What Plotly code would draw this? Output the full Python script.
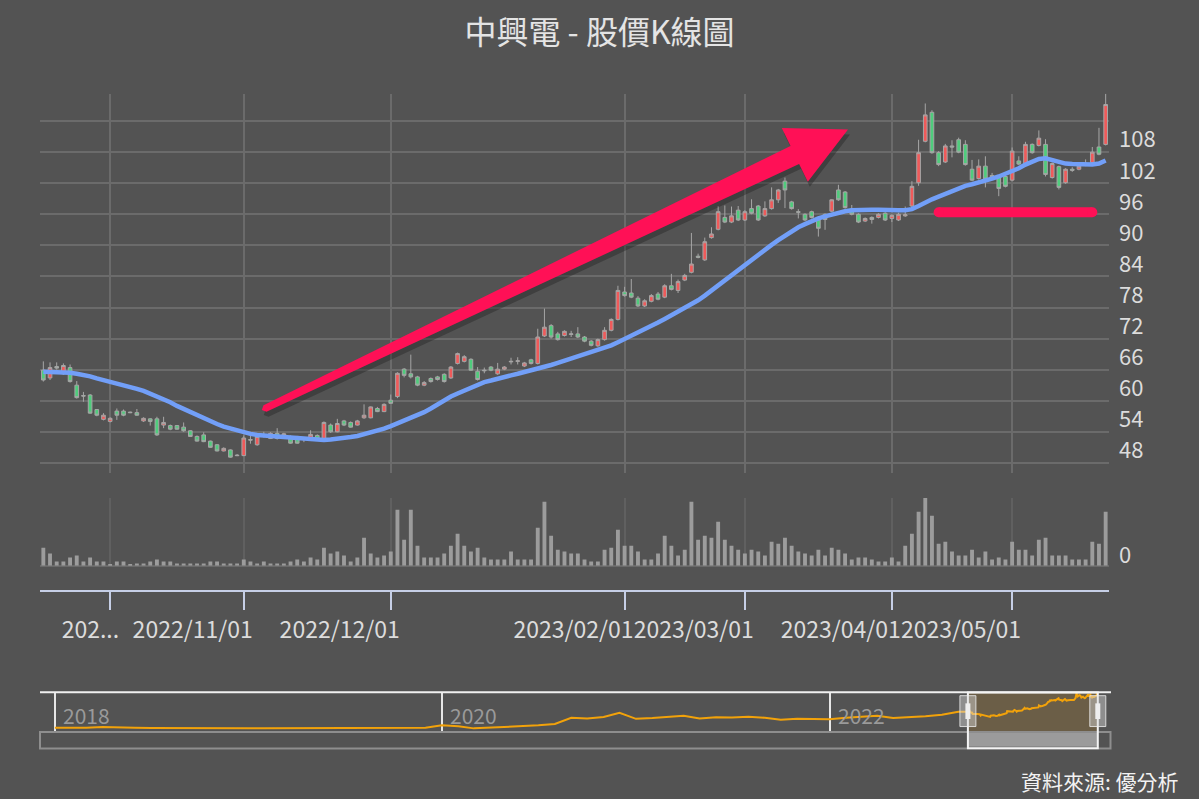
import pandas as pd
import plotly.graph_objects as go

W, H = 1199, 799

# ---------------- data ----------------
holidays = ["2022-10-10", "2023-01-02", "2023-01-18", "2023-01-19", "2023-01-20",
            "2023-01-23", "2023-01-24", "2023-01-25", "2023-01-26", "2023-01-27",
            "2023-02-27", "2023-02-28", "2023-04-03", "2023-04-04", "2023-04-05",
            "2023-05-01"]
dates = [d.strftime("%Y-%m-%d") for d in pd.bdate_range("2022-09-19", "2023-05-22")
         if d.strftime("%Y-%m-%d") not in holidays]

opens = [65.9, 64.4, 66.6, 65.2, 66.4, 63.0, 61.0, 61.1, 58.3, 56.4,
         56.0, 58.0, 58.0, 57.8, 57.7, 56.1, 56.5, 56.5, 55.3, 55.2,
         55.2, 54.9, 54.2, 53.1, 53.4, 52.2, 51.5, 50.3, 50.5, 49.5,
         49.4, 52.5, 51.5, 53.3, 52.7, 53.7, 53.3, 53.1, 53.1, 52.6,
         52.9, 53.3, 52.7, 55.3, 54.0, 56.1, 55.8, 55.3, 56.7, 56.7,
         58.5, 57.9, 60.1, 60.8, 66.1, 65.2, 64.6, 63.0, 64.3, 64.6,
         65.1, 64.4, 67.2, 67.6, 68.0, 65.7, 65.9, 66.5, 65.2, 66.1,
         67.5, 67.6, 66.7, 67.9, 67.2, 72.5, 74.5, 72.9, 72.6, 72.8,
         72.9, 72.3, 71.5, 70.6, 71.8, 73.6, 75.7, 81.0, 80.8, 79.8,
         78.3, 79.2, 80.6, 80.0, 82.2, 81.3, 83.3, 84.8, 87.9, 87.2,
         91.5, 93.1, 95.4, 94.5, 96.8, 94.9, 97.1, 97.6, 95.7, 97.1,
         98.8, 102.4, 98.4, 96.5, 96.0, 96.5, 94.9, 96.0, 96.6, 100.7,
         100.3, 97.0, 96.0, 94.7, 95.4, 95.4, 96.2, 95.2, 94.9, 95.7,
         97.6, 102.1, 110.1, 115.7, 107.9, 106.1, 109.2, 110.4, 109.5, 104.7,
         102.9, 105.3, 103.5, 103.3, 103.3, 102.6, 106.3, 105.8, 109.5, 109.3,
         109.5, 103.1, 105.2, 102.1, 104.7, 104.7, 105.5, 106.0, 109.0, 109.5]
highs = [67.6, 67.4, 67.4, 67.2, 67.0, 63.8, 61.7, 61.3, 58.4, 57.6,
         56.8, 58.5, 58.3, 57.9, 58.4, 56.8, 56.6, 56.9, 56.9, 55.4,
         55.3, 55.8, 54.3, 53.3, 53.9, 52.3, 51.6, 51.0, 50.6, 49.7,
         53.3, 53.3, 53.5, 54.0, 53.9, 54.7, 53.8, 53.3, 53.2, 53.0,
         54.3, 53.5, 56.0, 55.6, 56.5, 56.3, 56.0, 56.3, 59.3, 58.9,
         58.8, 59.5, 61.2, 65.5, 66.3, 68.9, 64.8, 63.8, 64.5, 64.8,
         65.3, 66.7, 69.3, 68.8, 68.2, 66.5, 66.4, 66.7, 67.3, 66.7,
         68.3, 68.4, 67.5, 68.1, 73.9, 77.8, 74.8, 73.3, 73.6, 73.5,
         74.2, 72.5, 71.7, 72.0, 74.2, 75.9, 82.2, 82.0, 83.5, 80.2,
         79.6, 80.6, 81.0, 82.5, 84.5, 83.4, 84.5, 92.4, 88.4, 91.5,
         93.5, 97.6, 97.7, 97.5, 97.6, 96.8, 98.9, 97.8, 98.5, 101.2,
         100.9, 103.1, 98.6, 97.0, 96.2, 96.7, 95.1, 96.2, 98.9, 101.7,
         100.5, 97.8, 96.2, 95.4, 95.6, 96.2, 96.4, 96.0, 96.3, 97.5,
         102.4, 110.4, 117.4, 116.1, 108.2, 109.6, 110.3, 110.8, 110.3, 106.5,
         106.6, 107.2, 104.0, 103.5, 103.5, 108.9, 107.2, 110.0, 109.7, 112.2,
         110.5, 106.0, 105.4, 104.9, 105.1, 105.5, 106.6, 109.0, 112.7, 119.3]
lows = [63.7, 64.0, 66.0, 65.0, 63.5, 60.4, 59.8, 57.5, 57.0, 56.2,
        55.8, 56.3, 57.0, 57.6, 57.1, 55.9, 55.2, 53.2, 54.7, 54.3,
        54.4, 54.0, 53.0, 52.1, 52.0, 50.9, 50.2, 50.2, 49.0, 49.3,
        49.3, 51.7, 51.3, 52.9, 52.6, 52.5, 53.1, 51.7, 51.7, 52.0,
        52.8, 52.4, 52.6, 53.8, 53.9, 55.1, 54.8, 55.2, 56.5, 56.6,
        57.8, 57.8, 59.4, 60.5, 64.5, 64.3, 62.8, 62.8, 63.5, 63.9,
        63.5, 64.2, 67.0, 67.4, 65.8, 63.9, 65.3, 65.7, 65.0, 65.9,
        67.0, 67.0, 66.5, 67.0, 67.0, 72.3, 72.0, 71.6, 72.4, 72.3,
        72.1, 71.3, 70.5, 70.4, 71.6, 73.4, 75.5, 80.1, 79.8, 78.1,
        78.1, 79.0, 79.4, 79.8, 81.3, 80.8, 83.1, 84.6, 87.5, 87.0,
        91.3, 92.9, 94.3, 94.3, 94.7, 94.7, 96.0, 94.7, 95.5, 96.9,
        98.2, 97.2, 96.9, 95.2, 94.7, 95.2, 91.7, 93.0, 96.4, 98.6,
        97.1, 95.8, 94.3, 94.5, 94.2, 95.2, 94.7, 94.5, 94.7, 95.5,
        97.4, 101.5, 109.9, 107.7, 105.3, 105.9, 107.0, 107.8, 105.4, 102.4,
        102.7, 101.2, 102.7, 99.5, 101.2, 102.4, 105.5, 105.6, 107.7, 109.1,
        103.3, 102.9, 100.8, 101.9, 104.2, 104.5, 105.3, 105.8, 107.4, 109.3]
closes = [64.0, 66.4, 66.3, 66.8, 63.7, 60.6, 60.9, 57.6, 57.2, 57.2,
          56.6, 57.2, 57.2, 57.7, 57.2, 56.6, 56.0, 53.4, 55.8, 54.5,
          54.5, 54.2, 53.1, 52.2, 52.1, 51.0, 50.3, 50.8, 49.1, 49.4,
          52.8, 52.4, 53.1, 53.3, 53.7, 52.7, 53.6, 51.8, 51.8, 52.5,
          53.5, 52.6, 55.8, 54.0, 55.6, 55.3, 54.9, 56.1, 57.2, 58.8,
          57.9, 59.3, 59.5, 65.3, 64.9, 64.6, 63.0, 63.5, 63.7, 64.1,
          63.7, 66.5, 69.1, 68.5, 65.9, 64.1, 65.8, 65.9, 66.1, 66.5,
          67.6, 67.7, 67.3, 67.2, 72.3, 74.2, 72.3, 71.8, 73.4, 72.9,
          72.3, 71.5, 70.7, 71.8, 73.6, 75.7, 81.3, 80.3, 80.0, 78.3,
          79.3, 80.3, 79.6, 82.2, 81.5, 83.0, 84.2, 86.4, 87.7, 90.7,
          92.2, 96.5, 94.5, 95.7, 94.9, 96.5, 96.2, 94.9, 97.1, 98.8,
          100.7, 100.7, 97.1, 96.4, 94.9, 95.4, 93.3, 95.0, 98.8, 98.8,
          97.3, 96.0, 94.5, 95.2, 95.0, 96.0, 94.9, 95.8, 96.0, 95.9,
          101.4, 107.9, 115.2, 107.9, 105.6, 109.2, 109.0, 108.0, 105.6, 102.6,
          105.3, 102.8, 103.2, 101.0, 101.4, 108.2, 105.7, 109.5, 107.9, 110.7,
          103.7, 105.8, 101.2, 104.7, 104.5, 105.3, 105.6, 108.0, 107.6, 117.2]
ma_line = [65.6, 65.6, 65.6, 65.5, 65.4, 65.2, 65.0, 64.7, 64.3, 64.0,
           63.7, 63.4, 63.0, 62.7, 62.3, 61.9, 61.4, 60.9, 60.3, 59.7,
           59.0, 58.4, 57.8, 57.1, 56.5, 56.0, 55.5, 55.0, 54.6, 54.2,
           53.9, 53.6, 53.4, 53.3, 53.2, 53.1, 53.0, 52.8, 52.7, 52.6,
           52.5, 52.4, 52.4, 52.5, 52.6, 52.8, 53.0, 53.2, 53.5, 53.8,
           54.2, 54.6, 55.1, 55.6, 56.1, 56.6, 57.2, 57.8, 58.5, 59.3,
           60.1, 60.8, 61.4, 62.0, 62.6, 63.1, 63.6, 63.9, 64.3, 64.6,
           64.9, 65.2, 65.5, 65.8, 66.2, 66.5, 66.9, 67.3, 67.7, 68.1,
           68.5, 68.9, 69.3, 69.7, 70.2, 70.7, 71.3, 71.9, 72.5, 73.1,
           73.8, 74.4, 75.1, 75.8, 76.5, 77.2, 77.9, 78.6, 79.4, 80.3,
           81.3, 82.3, 83.3, 84.2, 85.2, 86.2, 87.2, 88.3, 89.3, 90.1,
           91.0, 91.9, 92.7, 93.5, 94.1, 94.7, 95.2, 95.6, 96.0, 96.3,
           96.6, 96.8, 96.9, 96.9, 96.9, 96.9, 96.8, 96.8, 96.8, 96.8,
           97.0, 97.6, 98.3, 98.9, 99.4, 99.9, 100.5, 101.1, 101.5, 101.8,
           102.1, 102.5, 102.9, 103.3, 103.8, 104.3, 104.9, 105.6, 106.2, 106.7,
           106.8, 106.4, 106.1, 105.8, 105.7, 105.6, 105.6, 105.6, 105.8, 106.4]
volume = [5490, 3690, 1290, 1290, 2490, 3090, 1290, 2490, 1290, 1290,
          450, 1290, 1290, 450, 690, 690, 1290, 1890, 1290, 1290,
          690, 690, 690, 690, 690, 1290, 1290, 690, 690, 690,
          1890, 1290, 690, 1290, 690, 690, 690, 1290, 1890, 1290,
          2490, 1890, 5490, 3690, 4290, 3090, 1290, 2490, 8490, 3690,
          2490, 3090, 4290, 16890, 7890, 16890, 6090, 2490, 2490, 2490,
          3690, 6090, 9690, 6090, 4290, 5490, 2490, 1890, 1890, 1890,
          4290, 1890, 1890, 1890, 11490, 19290, 9090, 4890, 4290, 3690,
          3690, 1890, 1290, 1290, 4890, 5490, 10890, 6090, 6090, 4290,
          1890, 1890, 3690, 9090, 6090, 3090, 4890, 19290, 7890, 9090,
          8490, 13290, 7890, 6090, 4890, 3690, 4890, 4290, 3090, 7290,
          6690, 8490, 6090, 4290, 3690, 3090, 4890, 3090, 5490, 4890,
          3690, 1890, 2490, 2490, 1890, 1290, 1290, 2490, 1290, 6090,
          9690, 16290, 20490, 15090, 6690, 7290, 4290, 3090, 3090, 4890,
          2490, 4290, 1890, 2490, 1890, 7290, 4890, 4890, 3090, 7890,
          8490, 3090, 3090, 3090, 1890, 1890, 1890, 7290, 6690, 16290]

tick_dates = ["2022-10-03", "2022-11-01", "2022-12-01", "2023-02-01",
              "2023-03-01", "2023-03-31", "2023-05-02"]
tick_text = ["202...", "2022/11/01", "2022/12/01", "2023/02/01",
             "2023/03/01", "2023/04/01", "2023/05/01"]
price_ticks = [48, 54, 60, 66, 72, 78, 84, 90, 96, 102, 108, 114]
price_labels = ["48", "54", "60", "66", "72", "78", "84", "90", "96", "102", "108", ""]

hist_dates = [d.strftime("%Y-%m-%d") for d in pd.date_range("2018-01-01", "2022-09-01", freq="MS")]
hist_close = [19.7, 19.7, 19.3, 21.6, 19.7, 19.3, 19.0, 18.5, 18.5, 18.2, 18.2, 18.0,
              18.0, 18.2, 18.2, 18.5, 18.0, 17.9, 18.0, 17.9, 18.2, 18.5, 18.9, 19.7,
              26.3, 24.0, 17.9, 20.0, 21.6, 24.4, 26.3, 30.0, 47.0, 45.0, 49.0, 61.0,
              44.2, 46.2, 50.0, 52.6, 45.0, 48.5, 48.0, 50.0, 47.0, 41.5, 44.2, 43.3,
              43.3, 47.0, 50.0, 52.6, 46.2, 48.0, 51.5, 55.4, 63.8]
year_ticks = ["2018-01-01", "2020-01-01", "2022-01-01"]
year_labels = ["2018", "2020", "2022"]
support_level = 96.4
support_span = [dates[134], dates[157]]

# ---------------- style ----------------
BG = "#535353"
GRID = "#6b6b6b"
TXT = "#dcdcdc"
FONT = "Noto Sans CJK TC"
UP_FILL, DOWN_FILL, CANDLE_LINE = "#f05a5a", "#4fcc7c", "#a6a6a6"
PINK = "#ff1056"
AXIS_COL = "#c6cfe6"


def fx(px):
    return px / W


def fy(py):
    return 1 - py / H


fig = go.Figure()

fig.add_trace(go.Candlestick(
    x=dates, open=opens, high=highs, low=lows, close=closes,
    increasing=dict(fillcolor=UP_FILL, line=dict(color=CANDLE_LINE, width=1)),
    decreasing=dict(fillcolor=DOWN_FILL, line=dict(color=CANDLE_LINE, width=1)),
    xaxis="x", yaxis="y", showlegend=False, hoverinfo="skip"))

fig.add_trace(go.Scatter(
    x=dates, y=ma_line, mode="lines", line=dict(color="#729ff8", width=4.5),
    xaxis="x", yaxis="y", showlegend=False, hoverinfo="skip"))

fig.add_trace(go.Scatter(
    x=support_span, y=[support_level, support_level], mode="lines+markers",
    line=dict(color=PINK, width=10), marker=dict(color=PINK, size=10),
    xaxis="x", yaxis="y", showlegend=False, hoverinfo="skip"))

fig.add_trace(go.Bar(
    x=dates, y=volume, marker=dict(color="#9c9c9c", line=dict(width=0)),
    xaxis="x2", yaxis="y2", showlegend=False, hoverinfo="skip"))

# invisible carrier so the tick-mark axis knows the categories
fig.add_trace(go.Scatter(
    x=dates, y=[0] * len(dates), mode="markers", marker=dict(size=1, opacity=0),
    xaxis="x4", yaxis="y2", showlegend=False, hoverinfo="skip"))

fig.add_trace(go.Scatter(
    x=hist_dates + dates, y=hist_close + closes, mode="lines",
    line=dict(color="#f2a20a", width=2),
    xaxis="x3", yaxis="y3", showlegend=False, hoverinfo="skip"))

n = len(dates)
fig.update_layout(
    width=W, height=H, margin=dict(l=0, r=0, t=0, b=0),
    paper_bgcolor=BG, plot_bgcolor=BG,
    font=dict(family=FONT, color=TXT, size=22),
    title=dict(text="中興電 - 股價K線圖", x=0.5, xanchor="center",
               y=fy(33), yanchor="middle", font=dict(size=32, color="#e4e4e4")),
    bargap=0.42, boxgap=0.22,
    xaxis=dict(domain=[fx(40), fx(1109)], anchor="y", type="category",
               range=[-0.5, n - 0.5], tickvals=tick_dates, showticklabels=False,
               showgrid=True, gridcolor=GRID, gridwidth=1.5, ticks="",
               showline=False, zeroline=False, rangeslider=dict(visible=False)),
    yaxis=dict(domain=[fy(475), fy(94)], anchor="x", side="right",
               range=[46.0, 119.3], tickvals=price_ticks, ticktext=price_labels,
               showgrid=True, gridcolor=GRID, gridwidth=1.5, zeroline=False,
               ticks="", ticklabelposition="outside top", ticklabelstandoff=9,
               ticklabelshift=3, tickfont=dict(size=22, color=TXT)),
    xaxis2=dict(domain=[fx(40), fx(1109)], anchor="free", position=fy(593),
                type="category", range=[-0.5, n - 0.5],
                tickvals=tick_dates, ticktext=tick_text, tickangle=0,
                ticks="", showline=True, linecolor=AXIS_COL, linewidth=2,
                showgrid=True, gridcolor="#606060", gridwidth=1.5, zeroline=False,
                ticklabelposition="outside left", ticklabelshift=10,
                ticklabelstandoff=19, tickfont=dict(size=23, color=TXT)),
    xaxis4=dict(domain=[fx(40), fx(1109)], anchor="free", position=fy(593),
                overlaying="x2", type="category", range=[-0.5, n - 0.5],
                tickvals=tick_dates, showticklabels=False,
                ticks="outside", ticklen=18, tickwidth=2, tickcolor=AXIS_COL,
                showgrid=False, showline=False, zeroline=False),
    yaxis2=dict(domain=[fy(568), fy(500)], anchor="x2", side="right",
                range=[0, 20400], tickvals=[0], ticktext=["0"],
                showgrid=False, zeroline=True, zerolinecolor="#6a6a6a", zerolinewidth=2,
                ticks="", ticklabelposition="outside top", ticklabelstandoff=9,
                ticklabelshift=5, tickfont=dict(size=22, color=TXT)),
    xaxis3=dict(domain=[fx(40), fx(1110)], anchor="y3", type="date",
                range=["2017-12-04", "2023-06-14"], tickvals=year_ticks,
                showticklabels=False, showgrid=True, gridcolor="#e6e6e6",
                gridwidth=1.5, zeroline=False, showline=False, ticks=""),
    yaxis3=dict(domain=[fy(734), fy(695)], anchor="x3", range=[10, 117],
                visible=False, showgrid=False, zeroline=False),
)

for yl, yt in zip(year_labels, year_ticks):
    fig.add_annotation(x=yt, xref="x3", y=fy(718), yref="paper", text=yl,
                       showarrow=False, xanchor="left", yanchor="middle", xshift=6,
                       font=dict(size=21, color="#9a9a9a"))

fig.add_annotation(x=fx(1181), y=fy(784), xref="paper", yref="paper",
                   text="資料來源: 優分析", showarrow=False, xanchor="right",
                   yanchor="middle", font=dict(size=21, color="#f2f2f2"))

# ---------------- navigator decorations ----------------
sel0, sel1 = dates[0], dates[-1]
shapes = []
shapes.append(dict(type="rect", xref="x3", yref="paper", x0=sel0, x1=sel1,
                   y0=fy(734), y1=fy(695), fillcolor="rgba(255,165,0,0.14)",
                   line=dict(width=0), layer="below"))
shapes.append(dict(type="line", xref="paper", yref="paper", x0=fx(40), x1=fx(1111),
                   y0=fy(694.8), y1=fy(694.8), line=dict(color="#f0f0f0", width=2)))
shapes.append(dict(type="rect", xref="paper", yref="paper", x0=fx(40), x1=fx(1110.5),
                   y0=fy(751.3), y1=fy(734.8), line=dict(color="#8e8e8e", width=2)))
shapes.append(dict(type="rect", xref="x3", yref="paper", x0=sel0, x1=sel1,
                   y0=fy(749.5), y1=fy(735.8), fillcolor="#9b9b9b", line=dict(width=0)))
shapes.append(dict(type="rect", xref="x3", yref="paper", x0=sel0, x1=sel1,
                   y0=fy(751), y1=fy(695), line=dict(color="#f4f4f4", width=2)))
for anchor in (sel0, sel1):
    shapes.append(dict(type="rect", xref="x3", yref="paper", xsizemode="pixel",
                       xanchor=anchor, x0=-8, x1=8, y0=fy(729.3), y1=fy(698.3),
                       fillcolor="rgba(215,215,215,0.45)",
                       line=dict(color="rgba(235,235,235,0.85)", width=1)))
    shapes.append(dict(type="rect", xref="x3", yref="paper", xsizemode="pixel",
                       xanchor=anchor, x0=-2.5, x1=2.5, y0=fy(721.7), y1=fy(706),
                       fillcolor="#eeeeee", line=dict(width=0)))

# ---------------- trend arrow (decoration) ----------------
arrow_px = [(263.5, 406.8), (790.5, 146.5), (781.8, 128.5), (848.0, 130.0),
            (807.8, 182.5), (799.1, 164.5), (266.5, 413.2), (261.8, 411.5)]


def path_of(points, dx=0.0, dy=0.0):
    s = ""
    for k, (px, py) in enumerate(points):
        s += ("M" if k == 0 else "L") + f"{fx(px + dx):.5f},{fy(py + dy):.5f} "
    return s + "Z"


shapes.append(dict(type="path", xref="paper", yref="paper",
                   path=path_of(arrow_px, 2, 5), fillcolor="rgba(25,25,25,0.35)",
                   line=dict(width=0)))
shapes.append(dict(type="path", xref="paper", yref="paper",
                   path=path_of(arrow_px), fillcolor=PINK, line=dict(width=0)))

fig.update_layout(shapes=shapes)

fig.write_html("out.html", config={"displayModeBar": False},
               post_script="document.body.style.margin='0';document.body.style.overflow='hidden';")
